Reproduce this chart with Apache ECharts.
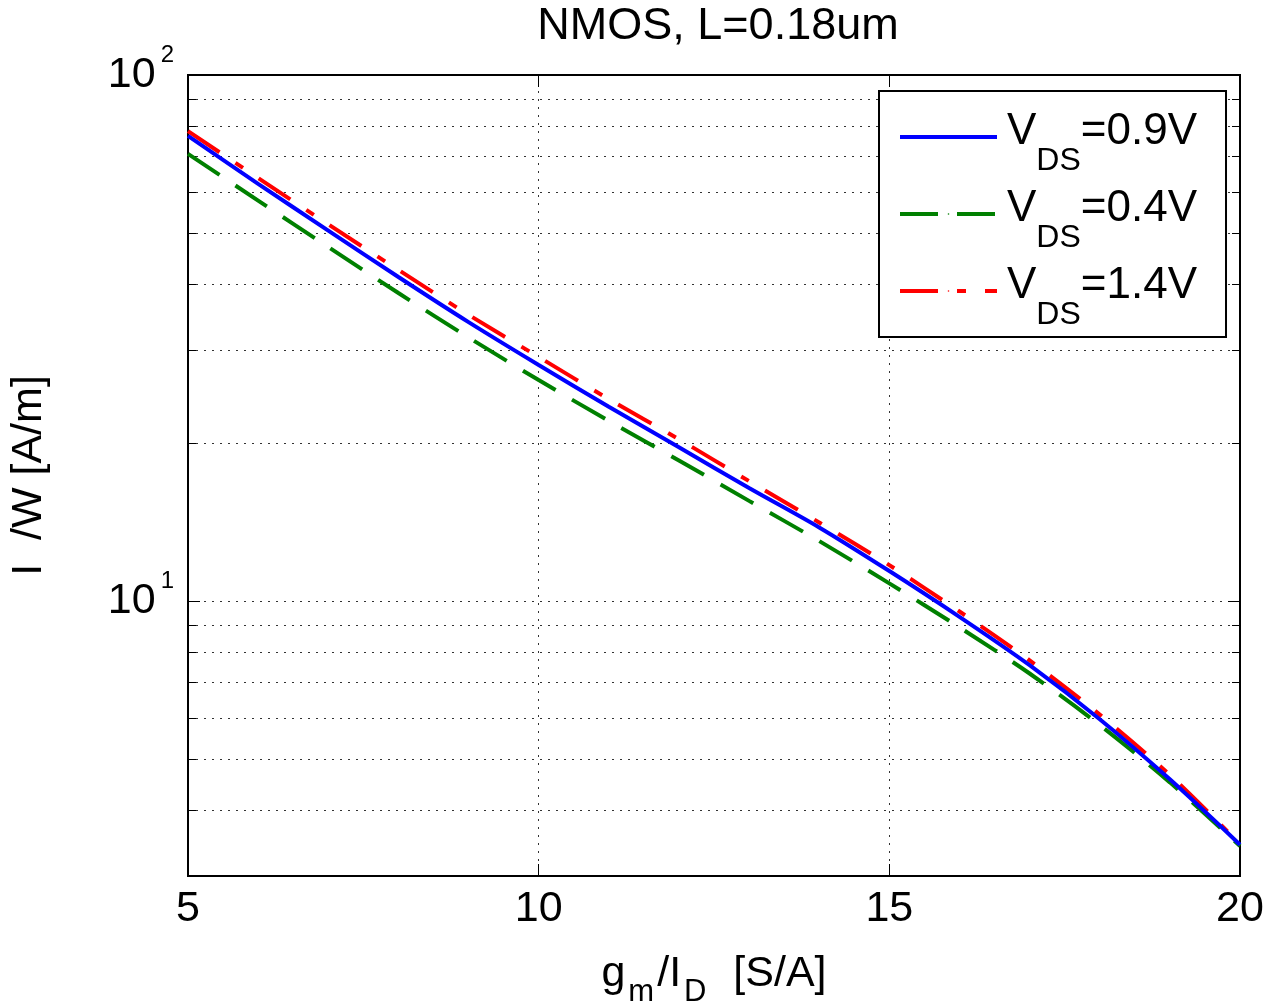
<!DOCTYPE html>
<html>
<head>
<meta charset="utf-8">
<script src="https://cdn.jsdelivr.net/npm/echarts@6/dist/echarts.min.js"></script>
<style>html,body{margin:0;padding:0;background:#fff;}#main{width:1263px;height:1006px;}</style>
</head>
<body>
<div id="main"></div>
<script>
// ---- data ----
const gmId = [5, 6, 7, 8, 9, 10, 11, 12, 13, 14, 15, 16, 17, 18, 19, 20];
const vds09 = [76.6, 62.1, 50.6, 41.3, 33.9, 28.1, 23.4, 19.6, 16.4, 13.8, 11.4, 9.33, 7.55, 5.96, 4.58, 3.44];
const vds04 = [70.8, 57.7, 47.1, 38.5, 31.7, 26.3, 22.0, 18.5, 15.5, 13.0, 10.8, 8.91, 7.28, 5.81, 4.52, 3.42];
const vds14 = [78.2, 63.7, 52.0, 42.6, 35.0, 29.1, 24.2, 20.3, 16.9, 14.1, 11.7, 9.55, 7.71, 6.08, 4.67, 3.45];
const seriesNames = ['VDS=0.9V', 'VDS=0.4V', 'VDS=1.4V'];
const legendValues = ['=0.9V', '=0.4V', '=1.4V'];
const xTicks = [5, 10, 15, 20];
const yMinorTicks = [4, 5, 6, 7, 8, 9, 20, 30, 40, 50, 60, 70, 80, 90];

const FONT = "'Liberation Sans', Arial, Helvetica, sans-serif";
const chart = echarts.init(document.getElementById('main'), null, {renderer: 'canvas'});
const pair = (xs, ys) => xs.map((x, i) => [x, ys[i]]);
const dotted = {color: '#333', width: 1, type: [2, 6]};

const option = {
  backgroundColor: '#fff',
  animation: false,
  textStyle: {fontFamily: FONT, color: '#000'},
  title: {
    text: 'NMOS, L=0.18um',
    left: 713, top: -1, textAlign: 'center',
    textStyle: {fontFamily: FONT, fontSize: 45, fontWeight: 'normal', color: '#000'}
  },
  grid: {left: 188, top: 75, right: 23, bottom: 130, show: true, borderColor: '#000', borderWidth: 2, backgroundColor: '#fff', outerBoundsMode: 'none', containLabel: false},
  legend: {
    data: seriesNames,
    orient: 'vertical',
    left: 879, top: 91,
    padding: [19, 29, 6, 19],
    itemGap: 10,
    itemWidth: 97, itemHeight: 2,
    backgroundColor: '#fff', borderColor: '#000', borderWidth: 2,
    lineStyle: {width: 4},
    formatter: function (name) {
      const i = seriesNames.indexOf(name);
      return '{v|V}{d|DS}{e|' + legendValues[i] + '}';
    },
    textStyle: {
      fontFamily: FONT, color: '#000',
      rich: {
        v: {fontFamily: FONT, fontSize: 44, height: 44, padding: [13, 0, 23, 5], verticalAlign: 'top', color: '#000'},
        d: {fontFamily: FONT, fontSize: 32, height: 32, padding: [48, 0, 0, 0], verticalAlign: 'top', color: '#000'},
        e: {fontFamily: FONT, fontSize: 44, height: 44, padding: [13, 0, 23, 0], verticalAlign: 'top', color: '#000'}
      }
    }
  },
  xAxis: [{
    type: 'value', min: 5, max: 20, interval: 5, position: 'bottom',
    axisLine: {show: true, lineStyle: {color: '#000', width: 2}},
    axisTick: {show: true, inside: true, length: 12, lineStyle: {color: '#000', width: 1}},
    axisLabel: {show: true, fontFamily: FONT, fontSize: 43, color: '#000', margin: 12,
      formatter: v => xTicks.indexOf(v) >= 0 ? String(v) : ''},
    splitLine: {show: true, lineStyle: dotted},
    name: '{a|g}{s|m}{a|/I}{s|D}{a|  [S/A]}',
    nameLocation: 'middle', nameGap: 77,
    nameTextStyle: {
      fontFamily: FONT, color: '#000',
      rich: {
        a: {fontFamily: FONT, fontSize: 43, height: 43, padding: [0, 0, 12, 0], verticalAlign: 'top', color: '#000'},
        s: {fontFamily: FONT, fontSize: 31, height: 31, padding: [24, 3, 0, 3], verticalAlign: 'top', color: '#000'}
      }
    }
  }, {
    type: 'value', min: 5, max: 20, interval: 5, position: 'top',
    axisLine: {show: true, lineStyle: {color: '#000', width: 2}},
    axisTick: {show: true, inside: true, length: 12, lineStyle: {color: '#000', width: 1}},
    axisLabel: {show: false}, splitLine: {show: false}
  }],
  yAxis: [{
    type: 'log', logBase: 10, min: 3, max: 100, position: 'left',
    axisLine: {show: true, lineStyle: {color: '#000', width: 2}},
    axisTick: {show: true, inside: true, length: 12, lineStyle: {color: '#000', width: 1}},
    axisLabel: {
      show: true, margin: 14,
      formatter: function (v) {
        const e = Math.round(Math.log10(v));
        if (Math.abs(Math.log10(v) - e) > 1e-6) return '';
        return '{b|10}{s|' + e + '}';
      },
      rich: {
        b: {fontFamily: FONT, fontSize: 43, height: 43, padding: [10.5, 0, 10.5, 0], verticalAlign: 'top', color: '#000'},
        s: {fontFamily: FONT, fontSize: 24, height: 24, padding: [0, 0, 40, 5], verticalAlign: 'top', color: '#000'}
      }
    },
    splitLine: {show: true, lineStyle: dotted},
    name: 'I  /W [A/m]',
    nameLocation: 'middle', nameGap: 137, nameRotate: 90,
    nameTextStyle: {fontFamily: FONT, fontSize: 43, color: '#000'}
  }, {
    type: 'log', logBase: 10, min: 3, max: 100, position: 'right',
    axisLine: {show: true, lineStyle: {color: '#000', width: 2}},
    axisTick: {show: true, inside: true, length: 12, lineStyle: {color: '#000', width: 1}},
    axisLabel: {show: false}, splitLine: {show: false}
  }],
  series: [
    {
      type: 'custom', name: 'minorGrid', xAxisIndex: 0, yAxisIndex: 0, silent: true, z: 1,
      data: yMinorTicks.map(v => [5, v]),
      encode: {x: 0, y: 1},
      renderItem: function (params, api) {
        const p = api.coord([api.value(0), api.value(1)]);
        const cs = params.coordSys;
        const y = Math.round(p[1]) + 0.5;
        return {
          type: 'group',
          children: [
            {type: 'line', shape: {x1: cs.x, y1: y, x2: cs.x + cs.width, y2: y}, style: {stroke: '#333', lineWidth: 1, lineDash: [2, 6]}},
            {type: 'line', shape: {x1: cs.x, y1: y, x2: cs.x + 8, y2: y}, style: {stroke: '#000', lineWidth: 1}},
            {type: 'line', shape: {x1: cs.x + cs.width - 8, y1: y, x2: cs.x + cs.width, y2: y}, style: {stroke: '#000', lineWidth: 1}}
          ]
        };
      }
    },
    {
      type: 'line', name: seriesNames[0], data: pair(gmId, vds09), symbol: 'none', smooth: 0.3, z: 4,
      lineStyle: {color: '#0000ff', width: 4, type: 'solid'}, itemStyle: {color: '#0000ff'}
    },
    {
      type: 'line', name: seriesNames[1], data: pair(gmId, vds04), symbol: 'none', smooth: 0.3, z: 3,
      lineStyle: {color: '#008000', width: 4, type: [38, 19]}, itemStyle: {color: '#008000'}
    },
    {
      type: 'line', name: seriesNames[2], data: pair(gmId, vds14), symbol: 'none', smooth: 0.3, z: 3,
      lineStyle: {color: '#ff0000', width: 4, type: [38, 19, 9, 19]}, itemStyle: {color: '#ff0000'}
    }
  ]
};
chart.setOption(option);
</script>
</body>
</html>
